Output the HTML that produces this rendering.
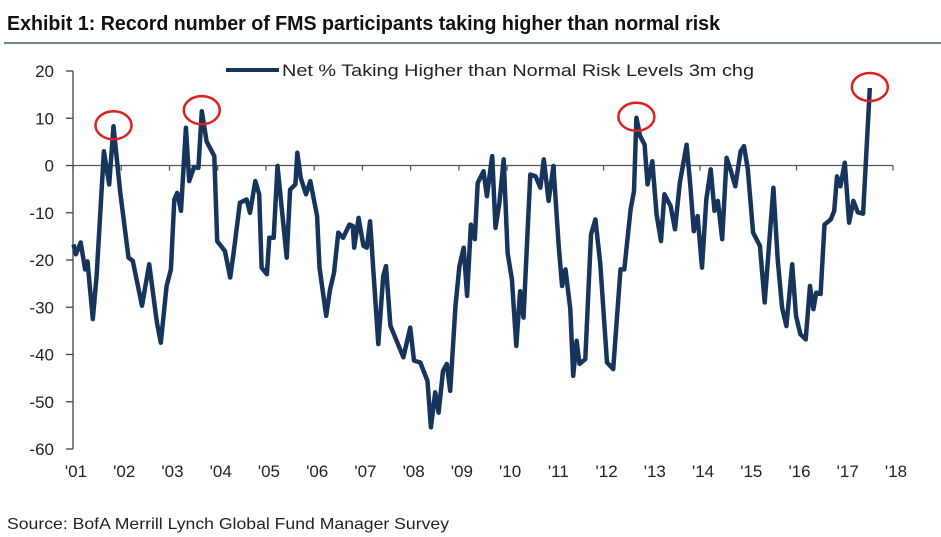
<!DOCTYPE html>
<html><head><meta charset="utf-8"><style>
body{margin:0;background:#fff;}
svg{display:block;font-family:"Liberation Sans",Arial,sans-serif;}
</style></head><body>
<svg id="chart" width="941" height="537" viewBox="0 0 941 537">
<text x="7" y="30" font-size="20" font-weight="bold" fill="#111" textLength="713" lengthAdjust="spacingAndGlyphs">Exhibit 1: Record number of FMS participants taking higher than normal risk</text>
<rect x="4" y="42" width="937" height="2" fill="#6f8798"/>
<g id="axes"></g>
<g id="series"></g>
<g id="circles"></g>
<g>
<line x1="226" y1="70" x2="279" y2="70" stroke="#17355c" stroke-width="4"/>
<text x="282" y="76" font-size="17" fill="#222" textLength="472" lengthAdjust="spacingAndGlyphs">Net % Taking Higher than Normal Risk Levels 3m chg</text>
</g>
<text x="7" y="529" font-size="16" fill="#222" textLength="442" lengthAdjust="spacingAndGlyphs">Source: BofA Merrill Lynch Global Fund Manager Survey</text>
</svg>
<script>
const yTicks=[20,10,0,-10,-20,-30,-40,-50,-60];
const xTickLabels=["'01","'02","'03","'04","'05","'06","'07","'08","'09","'10","'11","'12","'13","'14","'15","'16","'17","'18"];
const dates=[0.01,0.06,0.16,0.25,0.30,0.41,0.49,0.64,0.75,0.84,0.98,1.15,1.24,1.43,1.58,1.74,1.82,1.94,2.03,2.10,2.16,2.24,2.34,2.41,2.51,2.60,2.67,2.77,2.93,2.99,3.15,3.26,3.33,3.46,3.60,3.67,3.78,3.86,3.91,4.02,4.07,4.16,4.24,4.43,4.50,4.61,4.65,4.72,4.83,4.92,5.06,5.11,5.25,5.33,5.41,5.50,5.60,5.73,5.80,5.83,5.92,
6.02,6.09,6.16,6.23,6.33,6.43,6.49,6.58,6.85,6.99,7.07,7.20,7.35,7.42,7.51,7.58,7.67,7.75,7.82,7.93,8.01,8.10,8.17,8.25,8.33,8.39,8.51,8.58,8.69,8.76,8.84,8.93,9.01,9.10,9.19,9.27,9.34,9.48,9.59,9.69,9.76,9.86,9.96,10.07,10.14,10.21,10.31,10.37,10.44,10.50,10.62,10.74,10.83,10.93,11.07,11.20,11.35,11.43,11.56,11.63,11.68,
11.76,11.85,11.91,12.01,12.10,12.19,12.26,12.39,12.48,12.58,12.72,12.80,12.87,12.95,13.04,13.13,13.22,13.30,13.37,13.46,13.55,13.63,13.73,13.84,13.91,13.99,14.10,14.24,14.34,14.43,14.52,14.61,14.70,14.79,14.91,14.99,15.08,15.19,15.28,15.35,15.41,15.50,15.58,15.71,15.78,15.84,15.91,16.00,16.09,16.18,16.27,16.38,16.52];
const values=[-16.7,-18.8,-16.3,-22,-20.3,-32.5,-23.4,3,-4,8.3,-5.8,-19.5,-20.2,-29.7,-20.9,-33.2,-37.5,-25.5,-22,-7.2,-5.8,-9.6,8,-3.3,-0.3,-0.5,11.5,5.1,2,-16,-18.1,-23.7,-18.5,-7.9,-7.2,-10,-3.3,-6.1,-21.6,-23,-15.3,-15.3,-0.1,-19.5,-5.1,-4,2.7,-2.6,-6.1,-3.3,-10.7,-21.6,-31.8,-26.2,-22.7,-14.2,-15.3,-12.5,-12.8,-17.4,-11.1,
-17,-17.4,-11.8,-22.7,-37.8,-23.4,-21.3,-33.9,-40.6,-34.3,-41.3,-41.7,-45.6,-55.4,-48,-52.3,-43.5,-42,-47.7,-29.7,-21.3,-17.4,-27.6,-12.5,-15.6,-3.7,-1.2,-6.5,2,-13.2,-7.9,1.3,-18.5,-24.1,-38.2,-26.6,-32.2,-1.9,-2.3,-4.7,1.3,-7.5,-0.1,-17,-25.5,-22,-30.4,-44.5,-37.1,-42,-41,-14.6,-11.4,-20.6,-41.7,-43.1,-22,-22,-9.3,-5.4,10.1,
6.2,4.4,-4,0.9,-10.4,-16,-6.1,-8.6,-13.5,-3.7,4.4,-4.4,-13.9,-10.7,-21.6,-7.2,-0.8,-9.6,-7.5,-15.6,1.6,-0.8,-4.4,3,4.1,-0.8,-14.2,-17,-29,-17,-4.7,-19.9,-30.1,-34,-20.9,-31.8,-35.7,-36.8,-25.5,-30.4,-26.9,-27.2,-12.5,-11.4,-9.6,-2.3,-4.4,0.6,-12.1,-7.5,-9.9,-10.2,16.4];
const highlightDates=[0.84,2.67,11.68,16.52];
const highlightValues=[8.3,11.5,10.1,16.4];

const NS="http://www.w3.org/2000/svg";
const X0=73,X1=893,Y20=71,Y60=449;
const xs=d=>X0+(X1-X0)*d/17;
const ys=v=>Y20+(20-v)*(Y60-Y20)/80;
function mk(tag,attrs,parent){const e=document.createElementNS(NS,tag);for(const k in attrs)e.setAttribute(k,attrs[k]);parent.appendChild(e);return e;}
const axes=document.getElementById('axes');
let yl=mk('line',{x1:X0,y1:Y20,x2:X0,y2:Y60,stroke:'#444','stroke-width':1.3},axes);


yTicks.forEach(v=>{
  const t=mk('line',{x1:X0-7,y1:ys(v),x2:X0,y2:ys(v),stroke:'#444','stroke-width':1.3},axes);
  
  
  const l=mk('text',{x:54,y:ys(v)+6,'text-anchor':'end','font-size':17,fill:'#222'},axes);
  l.textContent=v;
  
  
});
let xl=mk('line',{x1:X0,y1:ys(0),x2:X1,y2:ys(0),stroke:'#555','stroke-width':1.3},axes);


xTickLabels.forEach((s,i)=>{
  const t=mk('line',{x1:xs(i),y1:ys(0),x2:xs(i),y2:ys(0)+5,stroke:'#555','stroke-width':1.3},axes);
  
  
  const l=mk('text',{x:xs(i)+3,y:477,'text-anchor':'middle','font-size':17,fill:'#222'},axes);
  l.textContent=s;
  
  
});
const series=document.getElementById('series');
const pts=dates.map((d,i)=>xs(d).toFixed(1)+','+ys(values[i]).toFixed(1)).join(' ');
const pl=mk('polyline',{points:pts,fill:'none',stroke:'#17355c','stroke-width':4.5,'stroke-linejoin':'round'},series);


const circ=document.getElementById('circles');
highlightDates.forEach((d,i)=>{
  const c=mk('ellipse',{cx:xs(d),cy:ys(highlightValues[i])-1,rx:18,ry:14,fill:'none',stroke:'#e02020','stroke-width':2.5},circ);
  
  
});
</script>
</body></html>
